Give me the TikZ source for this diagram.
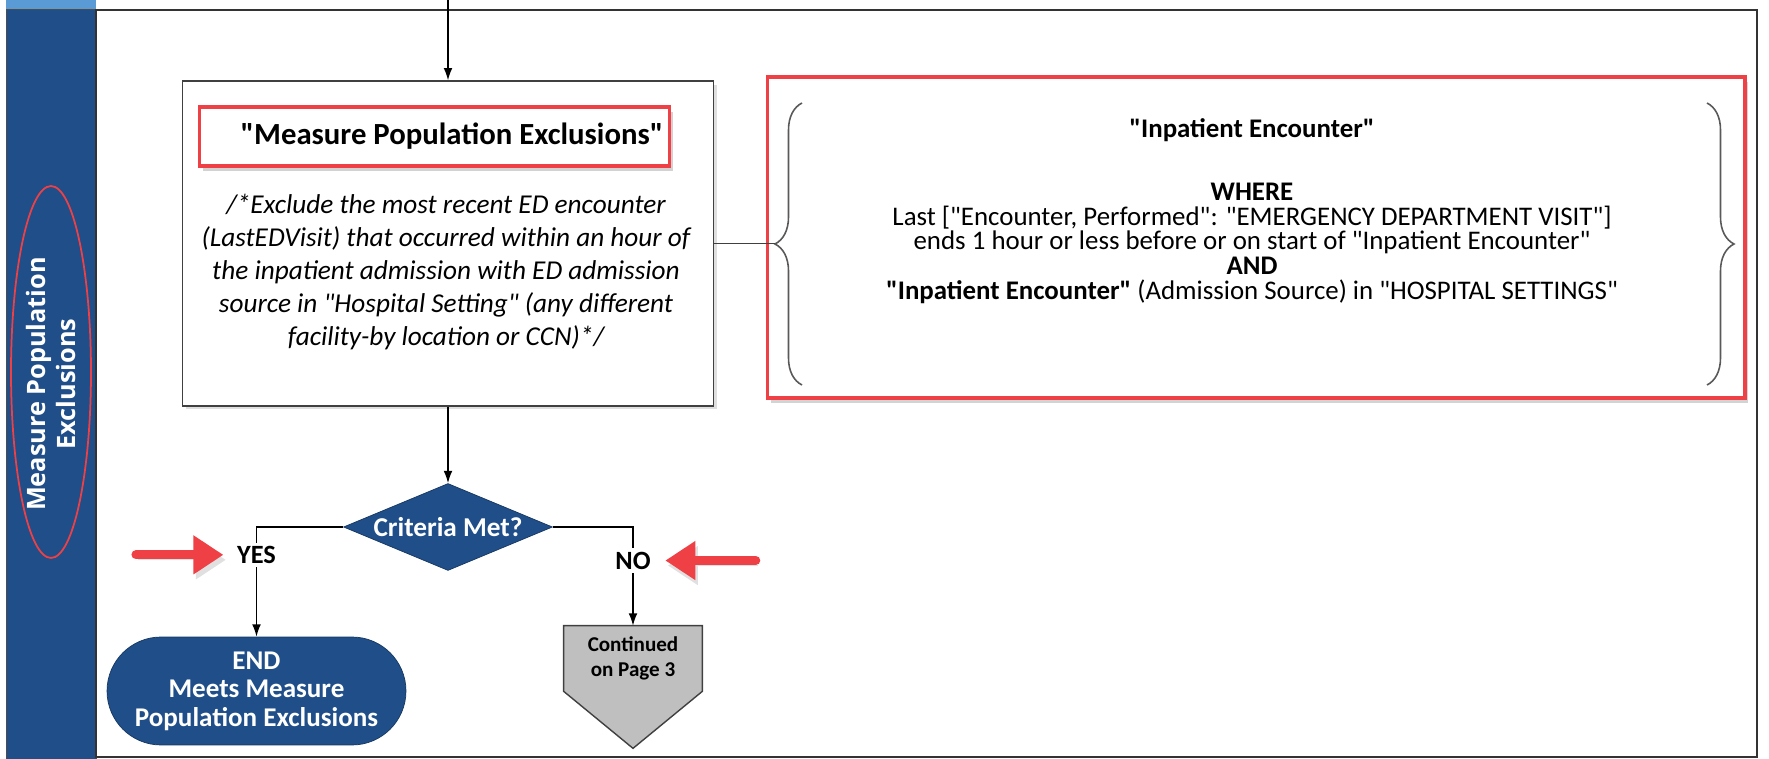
\documentclass[tikz,border=0pt]{standalone}
\usepackage{fontspec}
\setmainfont{Carlito}[Ligatures=TeXOff]
\newfontfamily\lanefont{Open Sans}
\usepackage{tikz}
\usetikzlibrary{shapes.geometric, arrows, arrows.meta, positioning, calc, backgrounds, shadows, decorations.pathreplacing}

\definecolor{laneblue}{HTML}{1F4E89}
\definecolor{stripblue}{HTML}{5B9BD5}
\definecolor{markred}{HTML}{EE4045}
\definecolor{contgray}{HTML}{BFBFBF}

\newcommand{\tightlines}{\lineskiplimit=-8pt\relax}

\tikzstyle{lane} = [rectangle, minimum width=1.8cm, minimum height=15cm, inner sep=0pt, fill=laneblue, draw=black!70]
\tikzstyle{lanetext} = [rotate=90, text=white, align=center, font=\lanefont\bfseries\fontsize{14.4}{17.5}\selectfont]
\tikzstyle{process} = [rectangle, minimum width=10.62cm, minimum height=6.5cm, draw=black!75, line width=0.8pt, fill=white, drop shadow={opacity=0.25, shadow xshift=2pt, shadow yshift=-2pt}]
\tikzstyle{redmark} = [rectangle, draw=markred, line width=1.8pt, fill=white, drop shadow={opacity=0.35, shadow xshift=2pt, shadow yshift=-3pt}]
\tikzstyle{decision} = [diamond, aspect=2.4, minimum width=4.18cm, minimum height=1.74cm, inner sep=0pt, fill=laneblue, draw=laneblue!70!black, text=white, font=\bfseries\fontsize{15.5}{17}\selectfont]
\tikzstyle{startstop} = [rectangle, rounded corners=1.08cm, minimum width=5.98cm, minimum height=2.16cm, align=center, fill=laneblue, draw=laneblue!70!black, text=white, font=\bfseries\fontsize{15.4}{16.3}\selectfont]
\tikzstyle{offpage} = [rectangle, minimum width=2.76cm, minimum height=1.3cm, inner sep=0pt, align=center, font=\bfseries\fontsize{12}{14}\selectfont]
\tikzstyle{label} = [fill=white, inner sep=2pt, font=\bfseries\fontsize{15}{16}\selectfont]
\tikzstyle{arrow} = [line width=0.8pt, -{Latex[length=7pt,width=5pt]}]
\tikzstyle{redarrow} = [line width=0.18cm, line cap=round, draw=markred, -{Triangle[length=0.6cm,width=0.74cm]}, preaction={draw=black!12, transform canvas={shift={(0.05cm,-0.1cm)}}}]
\tikzstyle{bracedec} = [draw=black!65, line width=0.9pt, decorate, decoration={brace, amplitude=0.54cm}]

\begin{document}
\begin{tikzpicture}[x=0.02cm, y=-0.02cm]
    \useasboundingbox (0,0) rectangle (1769,759);

    % swim lane
    \fill[stripblue] (6,0) rectangle (96,9);
    \node (lane) [lane] at (51,384) {};
    \draw[black!80, line width=0.8pt] (96,10) rectangle (1757,757);
    \node (lanelabel) [lanetext] at (51,384) {Measure Population\\Exclusions};
    \node (laneoval) [ellipse, draw=markred, line width=1pt, minimum width=1.6cm, minimum height=7.44cm] at (51,372) {};

    % exclusion step
    \node (excl) [process] at (448,243.5) {};
    \node (excltitle) [redmark, minimum width=9.26cm, minimum height=1.18cm, font=\bfseries\fontsize{17.5}{19}\selectfont] at (434.5,136.5) {\hspace{0.7cm}"Measure Population Exclusions"};
    \node (excltext) [align=center, font=\itshape\fontsize{15.5}{18.7}\selectfont] at (446,272) {/*Exclude the most recent ED encounter\\(LastEDVisit) that occurred within an hour of\\the inpatient admission with ED admission\\source in "Hospital Setting" (any different\\facility-by location or CCN)*/};

    % criteria
    \node (condframe) [redmark, minimum width=19.56cm, minimum height=6.42cm] at (1256,237.5) {};
    \draw[bracedec] (802,385) -- (802,103);
    \draw[bracedec] (1707,103) -- (1707,385);
    \coordinate (bracetip) at (775,243.5);
    \node (cond) [align=center, font=\fontsize{15.3}{14}\selectfont\tightlines] at (1252,211) {\textbf{"Inpatient Encounter"}\\[0.77cm]\textbf{WHERE}\\Last ["Encounter, Performed": "EMERGENCY DEPARTMENT VISIT"]\\ends 1 hour or less before or on start of "Inpatient Encounter"\\\textbf{AND}\\\textbf{"Inpatient Encounter"} (Admission Source) in "HOSPITAL SETTINGS"};

    % decision and outcomes
    \node (crit) [decision] at (448,527) {Criteria Met?};
    \node (endnode) [startstop] at (256.5,691) {END\\Meets Measure\\Population Exclusions};
    \node (cont) [offpage] at (633,658.5) {Continued\\on Page 3};
    \begin{scope}[on background layer]
        \draw[fill=contgray, draw=black!75, line width=0.8pt] (cont.north west) -- (cont.north east) -- (cont.south east) -- ($(cont.south)+(0,57)$) -- (cont.south west) -- cycle;
    \end{scope}

    \coordinate (flowin) at (448,0);
    \draw [arrow] (flowin) -- (excl.north);
    \draw [black!75, line width=0.8pt] (excl.east) -- (bracetip);
    \draw [arrow] (excl.south) -- (crit.north);
    \draw [arrow] (crit.west) -| node[label, pos=0.627] (yes) {YES} (endnode.north);
    \draw [arrow] (crit.east) -| node[label, pos=0.67] (no) {NO} (cont.north);

    % pointers
    \coordinate[left=1.94cm of yes.west] (yesptr);
    \coordinate[right=2.02cm of no.east] (noptr);
    \draw [redarrow, shorten >=0.19cm] (yesptr) -- (yes.west);
    \draw [redarrow, shorten >=0.21cm] (noptr) -- (no.east);
\end{tikzpicture}
\end{document}
